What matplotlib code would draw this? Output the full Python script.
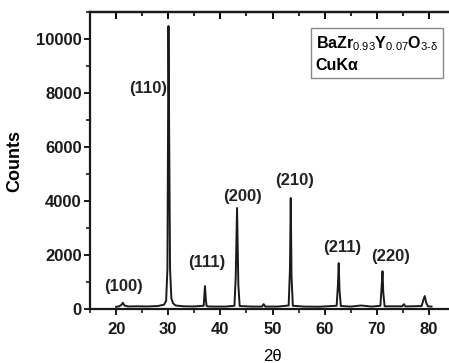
import matplotlib
matplotlib.use("Agg")
import matplotlib.pyplot as plt
from matplotlib.ticker import MultipleLocator

plt.rcParams['font.family'] = ['Liberation Sans', 'DejaVu Sans']
plt.rcParams['mathtext.fontset'] = 'custom'
plt.rcParams['mathtext.rm'] = 'Liberation Sans'
plt.rcParams['mathtext.bf'] = 'Liberation Sans:bold'
plt.rcParams['mathtext.it'] = 'Liberation Sans:italic'

# XRD trace (2theta, counts)
two_theta = [20.0, 20.6, 21.0, 21.3, 21.6, 22.3, 24.0, 26.0, 28.0, 29.2, 29.6, 29.85,
             30.05, 30.2, 30.35, 30.6, 30.9, 31.4, 33.0, 35.0, 36.8, 37.05, 37.2, 37.35,
             37.6, 39.0, 41.0, 42.7, 42.95, 43.2, 43.45, 43.7, 46.0, 48.0, 48.3, 48.6,
             51.0, 53.1, 53.35, 53.5, 53.65, 53.9, 56.0, 59.0, 62.3, 62.55, 62.7, 62.85,
             63.1, 65.0, 67.0, 69.0, 70.7, 70.95, 71.1, 71.25, 71.5, 74.9, 75.2, 75.5,
             78.6, 78.95, 79.2, 79.45, 79.8, 80.5]
counts = [80, 100, 150, 230, 130, 95, 100, 95, 110, 160, 300, 1500,
          10480, 6000, 1500, 400, 220, 130, 100, 95, 120, 850, 400, 120,
          95, 90, 90, 120, 1200, 3740, 900, 110, 90, 90, 180, 90,
          90, 130, 1500, 4110, 1200, 120, 90, 85, 120, 900, 1700, 700,
          110, 90, 130, 90, 120, 900, 1400, 600, 100, 100, 180, 95,
          110, 350, 480, 250, 100, 90]

# Peak labels
peak_labels = ['(100)', '(110)', '(111)', '(200)', '(210)', '(211)', '(220)']
label_x = [21.5, 26.1, 37.4, 44.2, 54.3, 63.3, 72.7]
label_y = [830, 8150, 1720, 4150, 4750, 2260, 1960]

xticks = [20, 30, 40, 50, 60, 70, 80]
yticks = [0, 2000, 4000, 6000, 8000, 10000]

fig = plt.figure(figsize=(4.49, 3.63), dpi=100)
ax = fig.add_axes([90/449, 1 - 309/363, 365/449, 297/363])

ax.plot(two_theta, counts, color='#1a1a1a', lw=1.4)

for lab, x, y in zip(peak_labels, label_x, label_y):
    ax.text(x, y, lab, ha='center', va='center', fontsize=12, fontweight='bold', color='#222222')

ax.set_xlim(15, 85)
ax.set_ylim(0, 11000)
ax.set_xticks(xticks)
ax.set_yticks(yticks)
ax.xaxis.set_minor_locator(MultipleLocator(5))
ax.yaxis.set_minor_locator(MultipleLocator(1000))

for s in ['left', 'bottom', 'top']:
    ax.spines[s].set_linewidth(1.6)
    ax.spines[s].set_color('#1a1a1a')
ax.spines['right'].set_visible(False)

ax.tick_params(axis='both', which='major', direction='out', length=4, width=1.4,
               labelsize=12, colors='#1a1a1a')
ax.tick_params(axis='both', which='minor', direction='out', length=3, width=1.2, colors='#1a1a1a')
ax.tick_params(axis='x', which='both', pad=5)
ax.tick_params(axis='y', which='both', pad=2)
for t in ax.get_xticklabels() + ax.get_yticklabels():
    t.set_fontweight('bold')

# top ticks pointing inward
sec = ax.secondary_xaxis('top')
sec.set_xticks(xticks)
sec.xaxis.set_minor_locator(MultipleLocator(5))
sec.tick_params(which='major', direction='in', length=5, width=1.4, labeltop=False)
sec.tick_params(which='minor', direction='in', length=3, width=1.2)
sec.spines['top'].set_linewidth(1.6)

ax.set_xlabel('2θ', fontsize=12, labelpad=9)
ax.set_ylabel('Counts', fontsize=13, fontweight='bold', labelpad=9)

ax.text(0.618, 0.925,
        r'$\mathbf{BaZr}_{\mathrm{0.93}}\mathbf{Y}_{\mathrm{0.07}}\mathbf{O}_{\mathrm{3\text{-}δ}}$' + '\nCuKα',
        transform=ax.transAxes, ha='left', va='top', fontsize=11.5, fontweight='bold',
        linespacing=1.4,
        bbox=dict(boxstyle='square,pad=0.3', fc='white', ec='#888888', lw=1.0))

fig.savefig('out.png', dpi=100)
